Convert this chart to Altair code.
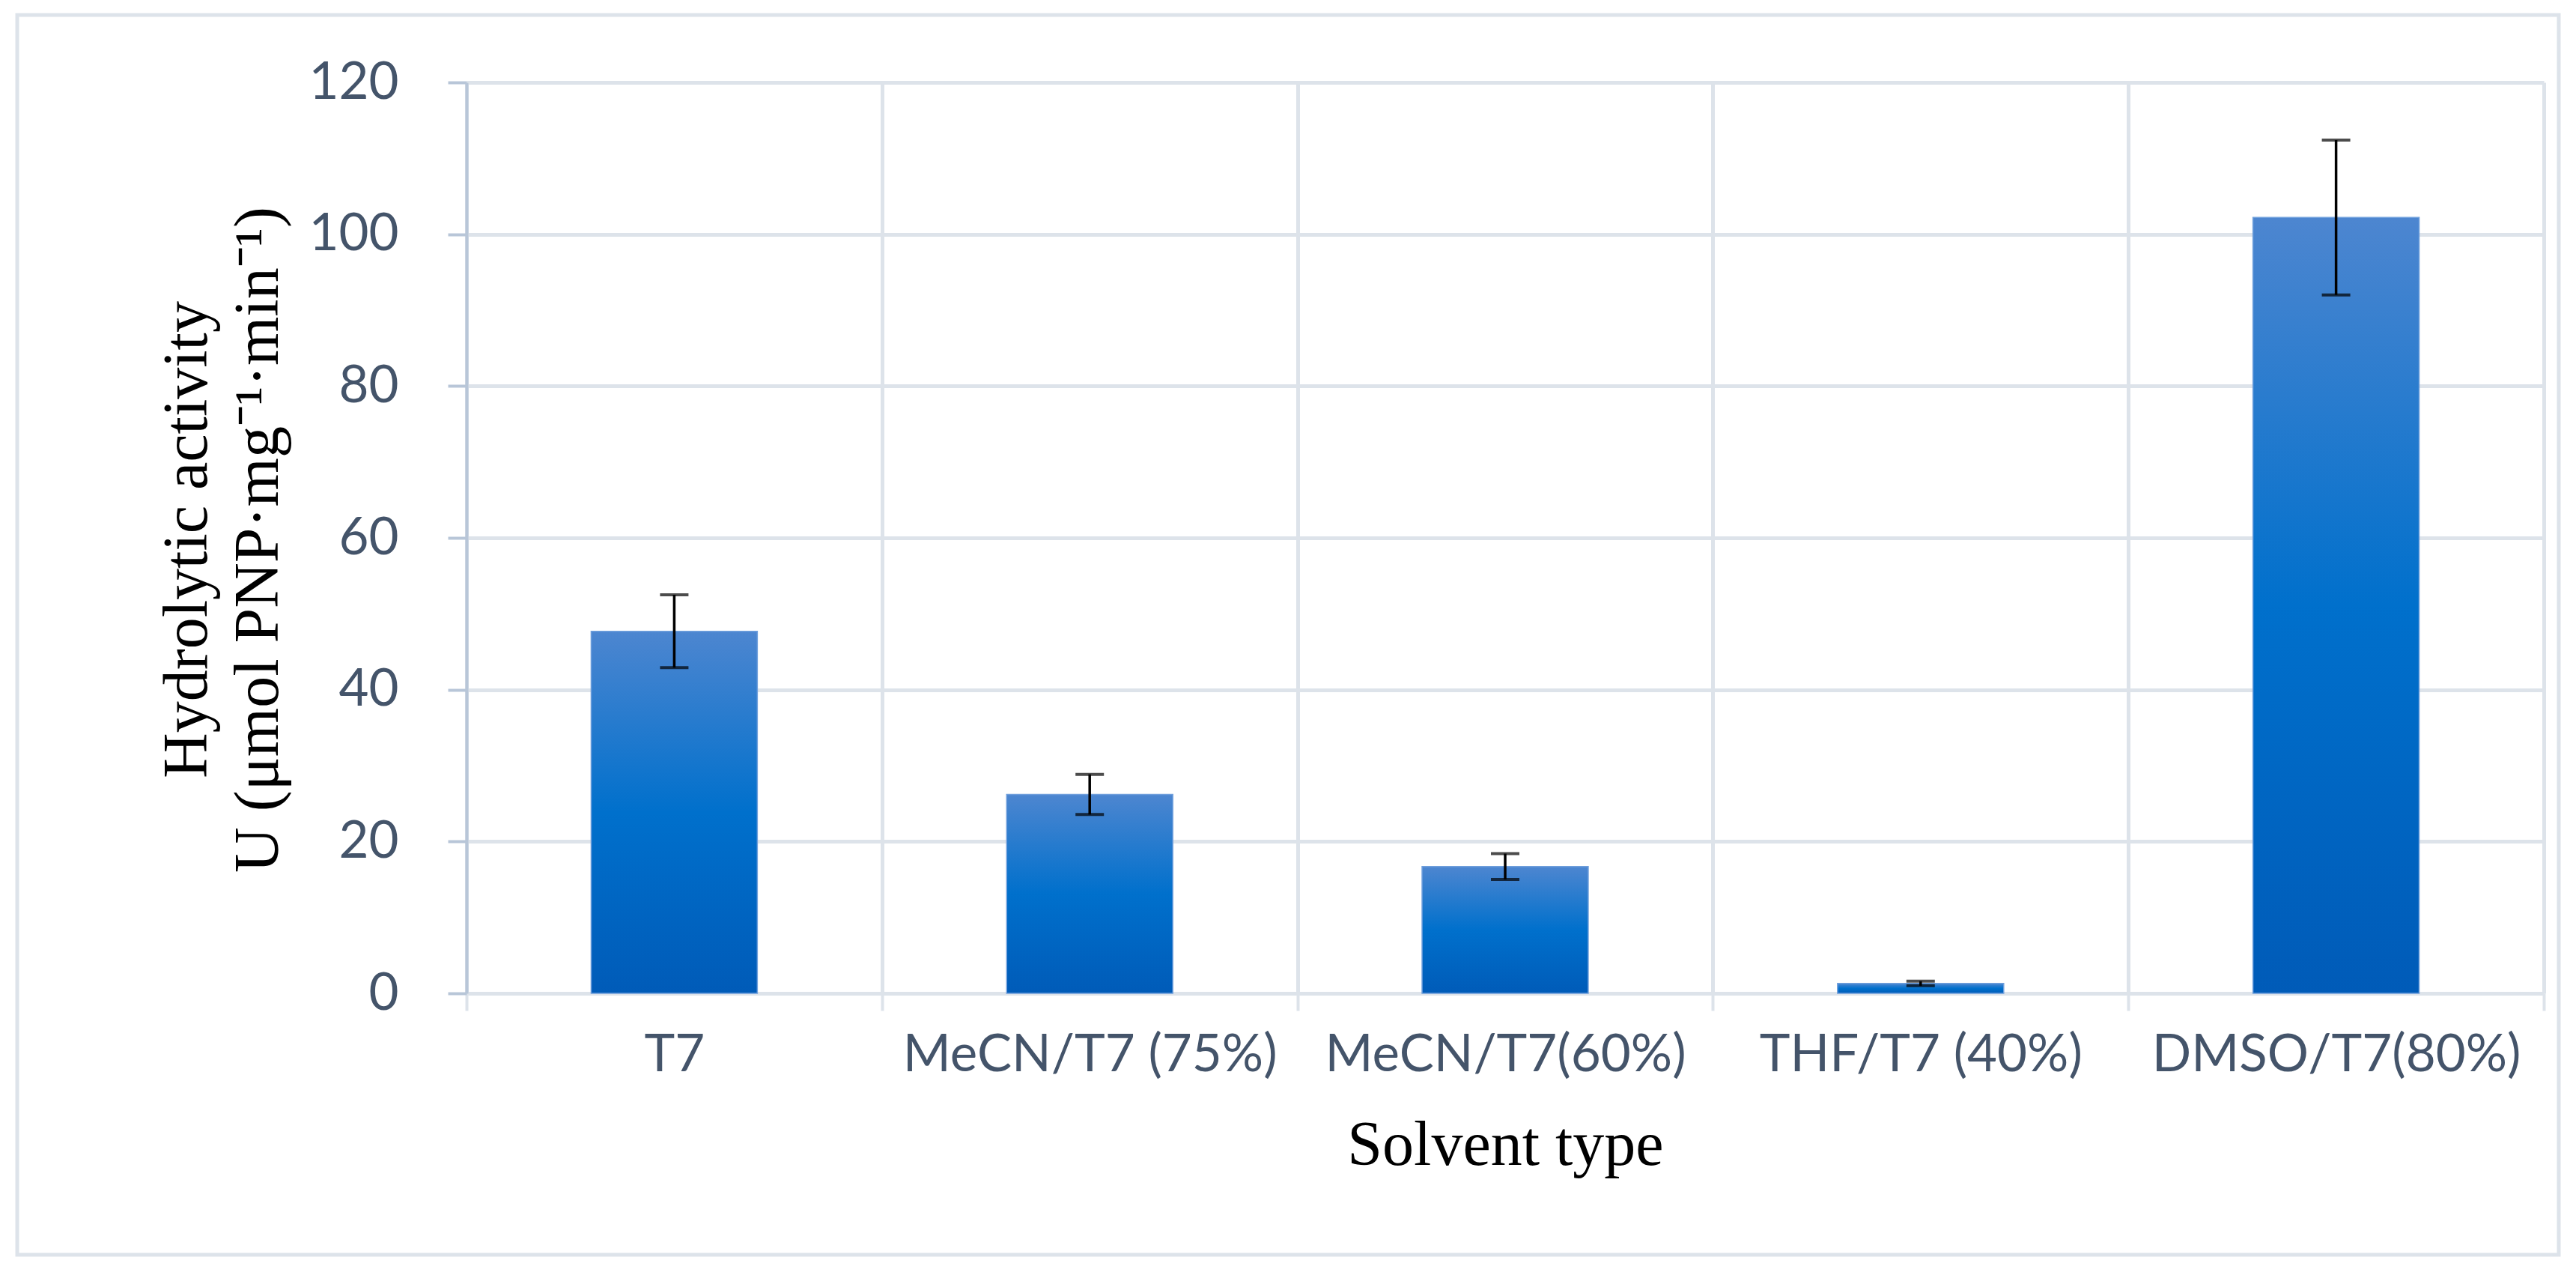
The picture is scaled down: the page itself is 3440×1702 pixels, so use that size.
import altair as alt
import pandas as pd

categories = ["T7", "MeCN/T7 (75%)", "MeCN/T7(60%)", "THF/T7 (40%)", "DMSO/T7(80%)"]
activity = [47.7, 26.2, 16.7, 1.3, 102.2]
errors = [4.8, 2.65, 1.7, 0.3, 10.2]
y_ticks = [0, 20, 40, 60, 80, 100, 120]

df = pd.DataFrame({"solvent": categories, "activity": activity, "err": errors})

LABEL_FONT = "Lato"
TITLE_FONT = "Liberation Serif"
LABEL_COLOR = "#44546a"
GRID = "#dde3ea"
AXIS_BLUE = "#b8c6d8"

x_enc = alt.X(
    "solvent:N",
    sort=categories,
    scale=alt.Scale(paddingInner=0, paddingOuter=0),
    axis=alt.Axis(
        title="Solvent type",
        tickBand="extent",
        labelAngle=0,
        labelFont=LABEL_FONT,
        labelFontSize=69,
        labelColor=LABEL_COLOR,
        labelLimit=0,
        labelPadding=25,
        tickSize=23,
        tickColor=GRID,
        tickWidth=4,
        domainColor=GRID,
        domainWidth=5,
        grid=True,
        gridColor=GRID,
        gridWidth=5,
        titleFont=TITLE_FONT,
        titleFontSize=84,
        titleFontWeight="normal",
        titleColor="black",
        titleBaseline="alphabetic",
        titleY=228,
    ),
)

y_scale = alt.Scale(domain=[0, 120], nice=False)

bars = alt.Chart(df).mark_bar(
    width=alt.RelativeBandSize(0.4),
    color=alt.Gradient(
        gradient="linear",
        x1=0, x2=0, y1=0, y2=1,
        stops=[
            alt.GradientStop(offset=0, color="#4d86d0"),
            alt.GradientStop(offset=0.5, color="#0070cc"),
            alt.GradientStop(offset=1, color="#005bb8"),
        ],
    ),
    stroke="#6f9fdc",
    strokeWidth=1.5,
).encode(
    x=x_enc,
    y=alt.Y(
        "activity:Q",
        scale=y_scale,
        axis=alt.Axis(
            values=y_ticks,
            title=["Hydrolytic activity", "U (μmol PNP·mg⁻¹·min⁻¹)"],
            titleFont=TITLE_FONT,
            titleFontSize=84,
            titleFontWeight="normal",
            titleColor="black",
            titleAngle=-90,
            titleAlign="center",
            titleBaseline="alphabetic",
            titleLineHeight=95,
            titleX=-348,
            titleY=610,
            labelFont=LABEL_FONT,
            labelFontSize=69,
            labelColor=LABEL_COLOR,
            labelPadding=66,
            tickSize=25,
            tickWidth=4,
            tickColor=AXIS_BLUE,
            domainColor=AXIS_BLUE,
            domainWidth=4,
            grid=True,
            gridColor=GRID,
            gridWidth=5,
        ),
    ),
)

err_base = alt.Chart(df).transform_calculate(
    lo="datum.activity - datum.err", hi="datum.activity + datum.err"
)

err_rule = err_base.mark_rule(color="black", strokeWidth=3.5).encode(
    x=alt.X("solvent:N", sort=categories),
    y=alt.Y("lo:Q", scale=y_scale),
    y2="hi:Q",
)
cap_lo = err_base.mark_tick(color="black", size=38, thickness=4).encode(
    x=alt.X("solvent:N", sort=categories),
    y=alt.Y("lo:Q", scale=y_scale),
)
cap_hi = err_base.mark_tick(color="black", size=38, thickness=4).encode(
    x=alt.X("solvent:N", sort=categories),
    y=alt.Y("hi:Q", scale=y_scale),
)

frame = alt.Chart(alt.Data(values=[{"f": 1}])).mark_rect(
    fill="white", fillOpacity=0, stroke=GRID, strokeWidth=5, clip=False
).encode(
    x=alt.value(-600), x2=alt.value(2794), y=alt.value(-90), y2=alt.value(1565)
)

chart = alt.layer(frame, bars, err_rule, cap_lo, cap_hi).properties(
    width=2774,
    height=1216,
    autosize=alt.AutoSizeParams(type="none"),
    padding={"left": 615, "top": 102, "right": 35, "bottom": 366},
    background="white",
).configure_view(stroke=None)

chart.save("out.html", embed_options={"renderer": "svg", "actions": False})
